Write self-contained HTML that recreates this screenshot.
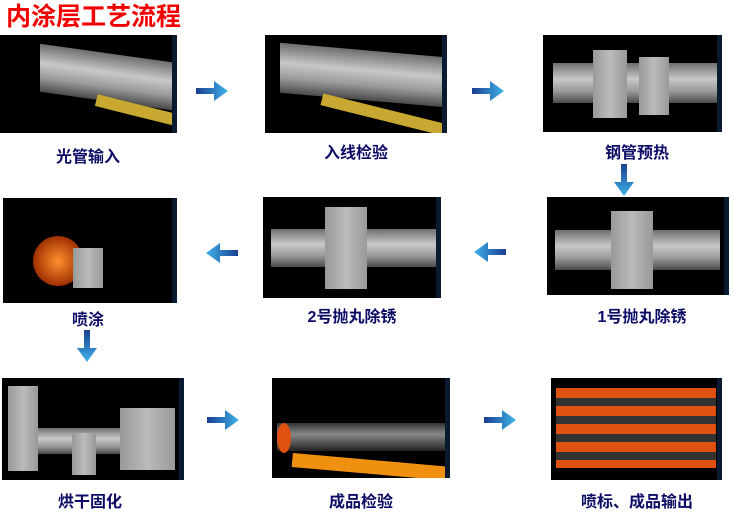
<!DOCTYPE html>
<html><head><meta charset="utf-8"><style>
body{margin:0;width:734px;height:512px;background:#fff;position:relative;overflow:hidden;font-family:"Liberation Sans","Noto Sans CJK SC",sans-serif}
.t{position:absolute;left:6px;top:-3px;font-size:25px;font-weight:bold;color:#f20000;letter-spacing:0}
.b{position:absolute;background:#000;border-right:5px solid #0a1a30;box-sizing:border-box;overflow:hidden}
.l{position:absolute;font-size:16px;font-weight:bold;color:#0c0c66;text-align:center;width:200px}
.p{position:absolute;background:linear-gradient(#6e6e6e,#c8c8c8 40%,#9a9a9a 70%,#4a4a4a)}
.s{position:absolute;background:linear-gradient(90deg,#999,#bbb,#999)}
svg{position:absolute}
</style></head><body>
<div class="t">内涂层工艺流程</div>
<svg width="0" height="0"><defs><linearGradient id="g" x1="0" x2="1"><stop offset="0" stop-color="#1a3f8f"/><stop offset="1" stop-color="#3fb2ea"/></linearGradient></defs></svg>

<div class="b" style="left:0;top:35px;width:177px;height:98px">
<div class="p" style="left:40px;top:18px;width:132px;height:48px;transform:skewY(8deg)"></div>
<div style="position:absolute;left:95px;top:70px;width:90px;height:12px;background:#c8a830;transform:rotate(14deg)"></div>
</div>
<div class="b" style="left:265px;top:35px;width:182px;height:98px">
<div class="p" style="left:15px;top:15px;width:165px;height:50px;transform:skewY(5deg)"></div>
<div style="position:absolute;left:55px;top:74px;width:130px;height:12px;background:#c8a830;transform:rotate(14deg)"></div>
</div>
<div class="b" style="left:543px;top:35px;width:179px;height:97px">
<div class="p" style="left:10px;top:28px;width:165px;height:40px"></div>
<div class="s" style="left:50px;top:15px;width:34px;height:68px"></div>
<div class="s" style="left:96px;top:22px;width:30px;height:58px"></div>
</div>
<div class="b" style="left:3px;top:198px;width:174px;height:105px">
<div style="position:absolute;left:30px;top:38px;width:50px;height:50px;border-radius:50%;background:radial-gradient(#ff9030,#a03000 70%,#444 72%)"></div>
<div class="s" style="left:70px;top:50px;width:30px;height:40px"></div>
</div>
<div class="b" style="left:263px;top:197px;width:178px;height:101px">
<div class="p" style="left:8px;top:32px;width:165px;height:38px"></div>
<div class="s" style="left:62px;top:10px;width:42px;height:82px"></div>
</div>
<div class="b" style="left:547px;top:197px;width:182px;height:98px">
<div class="p" style="left:8px;top:33px;width:165px;height:40px"></div>
<div class="s" style="left:64px;top:14px;width:42px;height:78px"></div>
</div>
<div class="b" style="left:2px;top:378px;width:182px;height:102px">
<div class="p" style="left:30px;top:50px;width:110px;height:26px"></div>
<div class="s" style="left:6px;top:8px;width:30px;height:85px"></div>
<div class="s" style="left:70px;top:55px;width:24px;height:42px"></div>
<div class="s" style="left:118px;top:30px;width:55px;height:62px"></div>
</div>
<div class="b" style="left:272px;top:378px;width:178px;height:100px">
<div class="p" style="left:5px;top:45px;width:168px;height:28px;background:linear-gradient(#333,#888 40%,#222)"></div>
<div style="position:absolute;left:5px;top:45px;width:14px;height:30px;border-radius:50%;background:#e05010"></div>
<div style="position:absolute;left:20px;top:82px;width:160px;height:14px;background:#f09010;transform:rotate(5deg)"></div>
</div>
<div class="b" style="left:551px;top:378px;width:171px;height:102px">
<div style="position:absolute;left:5px;top:10px;width:160px;height:80px;background:repeating-linear-gradient(#e05010 0 10px,#333 10px 18px)"></div>
</div>

<div class="l" style="left:-12px;top:143px">光管输入</div>
<div class="l" style="left:256px;top:139px">入线检验</div>
<div class="l" style="left:537px;top:139px">钢管预热</div>
<div class="l" style="left:-12px;top:306px">喷涂</div>
<div class="l" style="left:252px;top:303px">2号抛丸除锈</div>
<div class="l" style="left:542px;top:303px">1号抛丸除锈</div>
<div class="l" style="left:-10px;top:488px">烘干固化</div>
<div class="l" style="left:261px;top:488px">成品检验</div>
<div class="l" style="left:537px;top:488px">喷标、成品输出</div>

<svg style="left:196px;top:80px" width="34" height="22"><path d="M0 8h18v-7l14 10-14 10v-7H0z" fill="url(#g)"/></svg>
<svg style="left:472px;top:80px" width="34" height="22"><path d="M0 8h18v-7l14 10-14 10v-7H0z" fill="url(#g)"/></svg>
<svg style="left:207px;top:409px" width="34" height="22"><path d="M0 8h18v-7l14 10-14 10v-7H0z" fill="url(#g)"/></svg>
<svg style="left:484px;top:409px" width="34" height="22"><path d="M0 8h18v-7l14 10-14 10v-7H0z" fill="url(#g)"/></svg>
<svg style="left:204px;top:242px" width="34" height="22"><g transform="translate(34,0) scale(-1,1)"><path d="M0 8h18v-7l14 10-14 10v-7H0z" fill="url(#g)"/></g></svg>
<svg style="left:472px;top:241px" width="34" height="22"><g transform="translate(34,0) scale(-1,1)"><path d="M0 8h18v-7l14 10-14 10v-7H0z" fill="url(#g)"/></g></svg>
<svg style="left:613px;top:164px" width="22" height="34"><g transform="translate(22,0) rotate(90)"><path d="M0 8h18v-7l14 10-14 10v-7H0z" fill="url(#g)"/></g></svg>
<svg style="left:76px;top:330px" width="22" height="34"><g transform="translate(22,0) rotate(90)"><path d="M0 8h18v-7l14 10-14 10v-7H0z" fill="url(#g)"/></g></svg>
</body></html>
